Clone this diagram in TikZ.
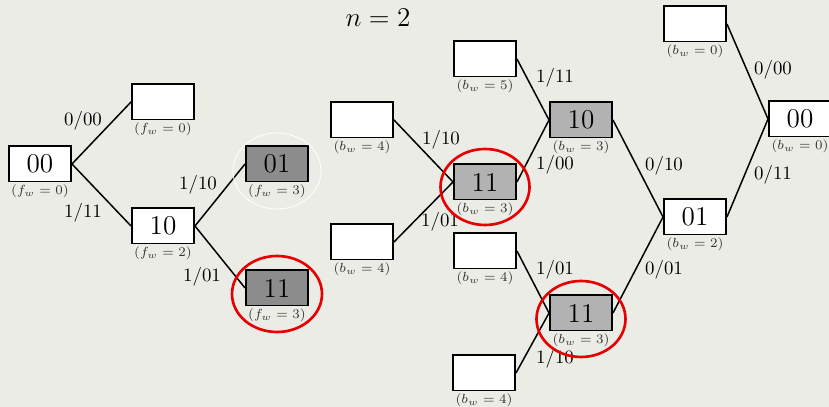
\documentclass[tikz,border=0pt]{standalone}
\definecolor{slidebg}{RGB}{236,236,231}
\definecolor{pathred}{RGB}{232,0,0}
\begin{document}
\begin{tikzpicture}[x=0.53pt,y=0.53pt,
  tbox/.style={draw,line width=1pt,fill=white,minimum width=32.9pt,minimum height=18.6pt,inner sep=0pt,font=\Large},
  dkbox/.style={tbox,fill=black!45},
  ltbox/.style={tbox,fill=black!30},
  wt/.style={font=\scriptsize,inner sep=1pt,text=black!80},
  elab/.style={inner sep=0pt},
  link/.style={thick},
  ring/.style={draw=pathred,line width=1.4pt}]
\fill[slidebg] (0,0) rectangle (829,407);
\useasboundingbox (0,0) rectangle (829,407);

\node (title) at (378,389) {\Large $n=2$};

% forward tree
\node[tbox,label={[wt]below:$(f_w=0)$}] (f00) at (40,243) {00};
\node[tbox,label={[wt]below:$(f_w=0)$}] (ftop) at (163,305) {};
\node[tbox,label={[wt]below:$(f_w=2)$}] (f10) at (163,181) {10};
\node[dkbox,label={[wt]below:$(f_w=3)$}] (f01) at (277,243) {01};
\node[dkbox,label={[wt]below:$(f_w=3)$}] (f11) at (277,119) {11};

\draw[link] (f00.east) -- (ftop.west);
\draw[link] (f00.east) -- (f10.west);
\draw[link] (f10.east) -- (f01.west);
\draw[link] (f10.east) -- (f11.west);

\node[elab] (e1) at (83,286) {$0/00$};
\node[elab] (e2) at (83,194) {$1/11$};
\node[elab] (e3) at (198,222) {$1/10$};
\node[elab] (e4) at (202,130) {$1/01$};

\draw[white,thin] (f01) ++(0,-7) ellipse (44 and 38);
\draw[ring] (f11) ++(0,-6) ellipse (45 and 38);

% backward tree
\node[tbox,label={[wt]below:$(b_w=4)$}] (b4a) at (362,287) {};
\node[tbox,label={[wt]below:$(b_w=4)$}] (b4b) at (362,165) {};
\node[ltbox,label={[wt]below:$(b_w=3)$}] (b11) at (485,225) {11};
\node[tbox,label={[wt]below:$(b_w=5)$}] (b5) at (485,348) {};
\node[ltbox,label={[wt]below:$(b_w=3)$}] (b10) at (581,287) {10};
\node[tbox,label={[wt]below:$(b_w=4)$}] (b4c) at (485,156) {};
\node[ltbox,label={[wt]below:$(b_w=3)$}] (b11b) at (581,94) {11};
\node[tbox,label={[wt]below:$(b_w=4)$}] (b4d) at (484,34) {};
\node[tbox,label={[wt]below:$(b_w=2)$}] (b01) at (695,190) {01};
\node[tbox,label={[wt]below:$(b_w=0)$}] (btop) at (695,383) {};
\node[tbox,label={[wt]below:$(b_w=0)$}] (b00) at (800,288) {00};

\draw[link] (b4a.east) -- (b11.west);
\draw[link] (b4b.east) -- (b11.west);
\draw[link] (b5.east) -- (b10.west);
\draw[link] (b11.east) -- (b10.west);
\draw[link] (b4c.east) -- (b11b.west);
\draw[link] (b4d.east) -- (b11b.west);
\draw[link] (b10.east) -- (b01.west);
\draw[link] (b11b.east) -- (b01.west);
\draw[link] (btop.east) -- (b00.west);
\draw[link] (b01.east) -- (b00.west);

\node[elab] (e5) at (441,267) {$1/10$};
\node[elab] (e6) at (440,185) {$1/01$};
\node[elab] (e7) at (555,329) {$1/11$};
\node[elab] (e8) at (555,242) {$1/00$};
\node[elab] (e9) at (555,137) {$1/01$};
\node[elab] (e10) at (555,48) {$1/10$};
\node[elab] (e11) at (664,241) {$0/10$};
\node[elab] (e12) at (664,137) {$0/01$};
\node[elab] (e13) at (773,337) {$0/00$};
\node[elab] (e14) at (773,232) {$0/11$};

\draw[ring] (b11) ++(0,-5) ellipse (44.5 and 38);
\draw[ring] (b11b) ++(0,-6) ellipse (44.5 and 38);
\end{tikzpicture}
\end{document}
